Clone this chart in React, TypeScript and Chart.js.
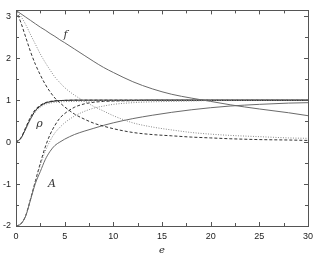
import React, { useEffect, useRef } from "react";
import { Chart, registerables } from "chart.js";

Chart.register(...registerables);

const xGrid = [0, 0.5, 1, 1.5, 2, 2.5, 3, 3.5, 4, 4.5, 5, 6, 7, 8, 9, 10, 12, 14, 16, 18, 20, 22, 25, 28, 30];

const fSolid = [3.14, 3.06, 2.98, 2.9, 2.82, 2.74, 2.67, 2.59, 2.52, 2.44, 2.37, 2.22, 2.07, 1.92, 1.78, 1.66, 1.44, 1.27, 1.14, 1.05, 0.97, 0.89, 0.79, 0.7, 0.63];
const fDotted = [3.14, 3.0, 2.8, 2.56, 2.33, 2.1, 1.9, 1.72, 1.55, 1.42, 1.3, 1.12, 0.98, 0.85, 0.74, 0.63, 0.46, 0.36, 0.29, 0.23, 0.19, 0.16, 0.13, 0.1, 0.09];
const fDashed = [3.14, 2.85, 2.5, 2.15, 1.85, 1.6, 1.38, 1.2, 1.05, 0.94, 0.84, 0.67, 0.55, 0.45, 0.38, 0.32, 0.23, 0.18, 0.15, 0.12, 0.1, 0.08, 0.06, 0.05, 0.04];

const rhoSolid = [0, 0.09, 0.32, 0.56, 0.75, 0.86, 0.93, 0.96, 0.98, 0.99, 0.995, 1, 1, 1, 1, 1, 1, 1, 1, 1, 1, 1, 1, 1, 1];
const rhoDashed = [0, 0.1, 0.35, 0.6, 0.78, 0.88, 0.94, 0.97, 0.985, 0.99, 0.995, 1, 1, 1, 1, 1, 1, 1, 1, 1, 1, 1, 1, 1, 1];
const rhoDotted = [0, 0.08, 0.3, 0.54, 0.72, 0.83, 0.9, 0.93, 0.95, 0.96, 0.965, 0.97, 0.975, 0.978, 0.98, 0.982, 0.985, 0.988, 0.99, 0.992, 0.994, 0.996, 0.998, 1, 1];

const aDashed = [-2, -1.95, -1.75, -1.35, -0.92, -0.5, -0.12, 0.18, 0.4, 0.57, 0.68, 0.83, 0.91, 0.95, 0.97, 0.98, 0.99, 1, 1, 1, 1, 1, 1, 1, 1];
const aDotted = [-2, -1.95, -1.75, -1.35, -0.93, -0.55, -0.22, 0.03, 0.22, 0.35, 0.46, 0.62, 0.73, 0.81, 0.86, 0.9, 0.94, 0.96, 0.97, 0.98, 0.99, 0.99, 1, 1, 1];
const aSolid = [-2, -1.95, -1.76, -1.37, -0.98, -0.7, -0.42, -0.22, -0.08, 0.0, 0.07, 0.18, 0.26, 0.33, 0.4, 0.46, 0.56, 0.64, 0.71, 0.77, 0.82, 0.86, 0.9, 0.93, 0.94];

const xTicks = [0, 5, 10, 15, 20, 25, 30];
const xMinor = [2.5, 7.5, 12.5, 17.5, 22.5, 27.5];
const yTicks = [-2, -1, 0, 1, 2, 3];
const yMinor = [-1.5, -0.5, 0.5, 1.5, 2.5];

const curveLabels = [
  { text: "f", x: 5.1, y: 2.55 },
  { text: "ρ", x: 2.4, y: 0.42 },
  { text: "A", x: 3.7, y: -1.0 },
];

const SOLID = { color: "#6a6a6a", dash: [] as number[] };
const DOTTED = { color: "#8a8a8a", dash: [1, 1.5] };
const DASHED = { color: "#333333", dash: [3, 2] };

function ds(vals: number[], st: { color: string; dash: number[] }) {
  return {
    data: xGrid.map((x, i) => ({ x, y: vals[i] })),
    borderColor: st.color,
    borderDash: st.dash,
    borderWidth: 1,
    pointRadius: 0,
    fill: false,
    cubicInterpolationMode: "monotone" as const,
  };
}

const framePlugin = {
  id: "frame",
  afterDraw(chart: any) {
    const { ctx, chartArea: a, scales } = chart;
    const xs = scales.x;
    const ys = scales.y;
    ctx.save();
    ctx.strokeStyle = "#555";
    ctx.lineWidth = 1;
    ctx.strokeRect(Math.round(a.left) + 0.5, Math.round(a.top) + 0.5, Math.round(a.right - a.left), Math.round(a.bottom - a.top));
    ctx.beginPath();
    const drawX = (v: number, len: number) => {
      const p = Math.round(xs.getPixelForValue(v)) + 0.5;
      ctx.moveTo(p, a.bottom);
      ctx.lineTo(p, a.bottom - len);
      ctx.moveTo(p, a.top);
      ctx.lineTo(p, a.top + len);
    };
    const drawY = (v: number, len: number) => {
      const p = Math.round(ys.getPixelForValue(v)) + 0.5;
      ctx.moveTo(a.left, p);
      ctx.lineTo(a.left + len, p);
      ctx.moveTo(a.right, p);
      ctx.lineTo(a.right - len, p);
    };
    xTicks.forEach((v) => drawX(v, 4));
    xMinor.forEach((v) => drawX(v, 3));
    yTicks.forEach((v) => drawY(v, 4));
    yMinor.forEach((v) => drawY(v, 3));
    ctx.stroke();
    ctx.fillStyle = "#333";
    ctx.textAlign = "center";
    ctx.textBaseline = "middle";
    ctx.font = "italic 11px 'DejaVu Serif', serif";
    curveLabels.forEach((l) => {
      ctx.fillText(l.text, xs.getPixelForValue(l.x), ys.getPixelForValue(l.y));
    });
    ctx.restore();
  },
};

export default function App() {
  const ref = useRef<HTMLCanvasElement>(null);
  useEffect(() => {
    if (!ref.current) return;
    const chart = new Chart(ref.current, {
      type: "line",
      data: {
        datasets: [
          ds(fSolid, SOLID),
          ds(fDotted, DOTTED),
          ds(fDashed, DASHED),
          ds(rhoDotted, DOTTED),
          ds(rhoDashed, DASHED),
          ds(rhoSolid, { color: "#222", dash: [] }),
          ds(aSolid, SOLID),
          ds(aDotted, DOTTED),
          ds(aDashed, DASHED),
        ],
      },
      options: {
        animation: false,
        responsive: false,
        maintainAspectRatio: false,
        layout: { padding: { top: 5, right: 5, left: 0, bottom: 0 } },
        plugins: { legend: { display: false }, tooltip: { enabled: false } },
        scales: {
          x: {
            type: "linear",
            min: 0,
            max: 30,
            grid: { display: false, drawTicks: false },
            border: { display: false },
            ticks: {
              padding: 5,
              color: "#222",
              font: { size: 9, family: "'Liberation Sans', Arial, sans-serif" },
              maxRotation: 0,
            },
            afterBuildTicks: (s: any) => {
              s.ticks = xTicks.map((v) => ({ value: v }));
            },
            afterFit: (s: any) => {
              s.height = 30;
            },
            title: {
              display: true,
              text: "e",
              color: "#222",
              padding: { top: 0, bottom: 0 },
              font: { size: 10, style: "italic", family: "'DejaVu Serif', serif" },
            },
          },
          y: {
            type: "linear",
            min: -2,
            max: 3.14,
            grid: { display: false, drawTicks: false },
            border: { display: false },
            ticks: {
              padding: 5,
              color: "#222",
              font: { size: 9, family: "'Liberation Sans', Arial, sans-serif" },
            },
            afterBuildTicks: (s: any) => {
              s.ticks = yTicks.map((v) => ({ value: v }));
            },
            afterFit: (s: any) => {
              s.width = 16;
            },
          },
        },
      },
      plugins: [framePlugin],
    } as any);
    return () => chart.destroy();
  }, []);
  return (
    <div style={{ position: "fixed", left: 0, top: 0, width: 318, height: 256, background: "#fff" }}>
      <canvas ref={ref} width={318} height={256} />
    </div>
  );
}
